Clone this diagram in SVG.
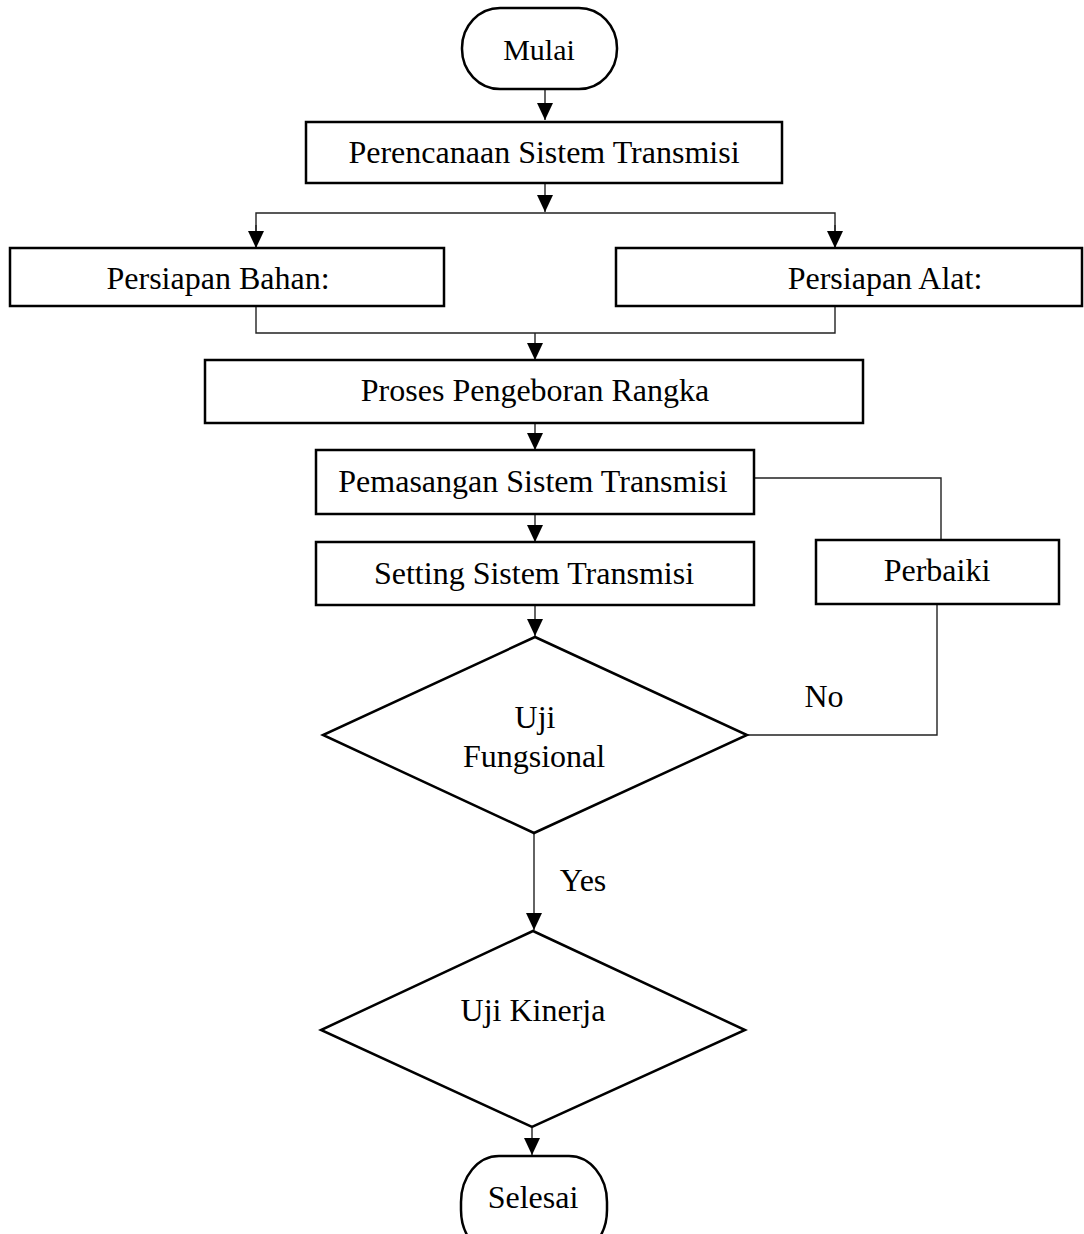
<svg xmlns="http://www.w3.org/2000/svg" width="1084" height="1234" viewBox="0 0 1084 1234">
<style>
  .box{fill:#fff;stroke:#000;stroke-width:2.5}
  .term{fill:#fff;stroke:#000;stroke-width:2.5}
  .dia{fill:#fff;stroke:#000;stroke-width:2.5}
  .ln{fill:none;stroke:#222;stroke-width:1.4}
  .t{font-family:"Liberation Serif","Times New Roman",serif;font-size:32px;fill:#000;text-anchor:middle}
</style>
<defs>
  <marker id="arr" markerUnits="userSpaceOnUse" markerWidth="18" markerHeight="16" refX="17" refY="8" orient="auto" viewBox="0 0 18 16">
    <path d="M0,0 L17,8 L0,16 Z" fill="#000"/>
  </marker>
</defs>
<g id="connectors">
  <line class="ln" x1="545" y1="90" x2="545" y2="120" marker-end="url(#arr)"/>
  <line class="ln" x1="545" y1="183" x2="545" y2="212" marker-end="url(#arr)"/>
  <polyline class="ln" points="256,248 256,213 835,213 835,248"/>
  <line class="ln" x1="256" y1="225" x2="256" y2="248" marker-end="url(#arr)"/>
  <line class="ln" x1="835" y1="225" x2="835" y2="248" marker-end="url(#arr)"/>
  <polyline class="ln" points="256,306 256,333 835,333 835,306"/>
  <line class="ln" x1="535" y1="333" x2="535" y2="360" marker-end="url(#arr)"/>
  <line class="ln" x1="535" y1="423" x2="535" y2="450" marker-end="url(#arr)"/>
  <line class="ln" x1="535" y1="514" x2="535" y2="542" marker-end="url(#arr)"/>
  <line class="ln" x1="535" y1="605" x2="535" y2="636" marker-end="url(#arr)"/>
  <polyline class="ln" points="754,478 941,478 941,540"/>
  <polyline class="ln" points="937,604 937,735 747,735"/>
  <line class="ln" x1="534" y1="833" x2="534" y2="930" marker-end="url(#arr)"/>
  <line class="ln" x1="532" y1="1128" x2="532" y2="1155" marker-end="url(#arr)"/>
</g>
<g id="mulai">
  <rect class="term" x="462" y="8" width="155" height="81" rx="38" ry="40"/>
  <text class="t" x="539" y="60" style="font-size:30px">Mulai</text>
</g>
<g id="perencanaan">
  <rect class="box" x="306" y="122" width="476" height="61"/>
  <text class="t" x="544" y="163">Perencanaan Sistem Transmisi</text>
</g>
<g id="bahan">
  <rect class="box" x="10" y="248" width="434" height="58"/>
  <text class="t" x="218" y="289">Persiapan Bahan:</text>
</g>
<g id="alat">
  <rect class="box" x="616" y="248" width="466" height="58"/>
  <text class="t" x="885" y="289">Persiapan Alat:</text>
</g>
<g id="pengeboran">
  <rect class="box" x="205" y="360" width="658" height="63"/>
  <text class="t" x="535" y="401">Proses Pengeboran Rangka</text>
</g>
<g id="pemasangan">
  <rect class="box" x="316" y="450" width="438" height="64"/>
  <text class="t" x="533" y="492">Pemasangan Sistem Transmisi</text>
</g>
<g id="setting">
  <rect class="box" x="316" y="542" width="438" height="63"/>
  <text class="t" x="534" y="584">Setting Sistem Transmisi</text>
</g>
<g id="perbaiki">
  <rect class="box" x="816" y="540" width="243" height="64"/>
  <text class="t" x="937" y="581">Perbaiki</text>
</g>
<g id="uji-fungsional">
  <polygon class="dia" points="535,637 747,735 534,833 323,735"/>
  <text class="t" x="535" y="728">Uji</text>
  <text class="t" x="534" y="767">Fungsional</text>
</g>
<g id="labels">
  <text class="t" x="824" y="707">No</text>
  <text class="t" x="583" y="891">Yes</text>
</g>
<g id="uji-kinerja">
  <polygon class="dia" points="533,931 745,1030 532,1127 321,1030"/>
  <text class="t" x="533" y="1021">Uji Kinerja</text>
</g>
<g id="selesai">
  <rect class="term" x="461" y="1156" width="146" height="100" rx="38" ry="46"/>
  <text class="t" x="533" y="1208">Selesai</text>
</g>
</svg>
